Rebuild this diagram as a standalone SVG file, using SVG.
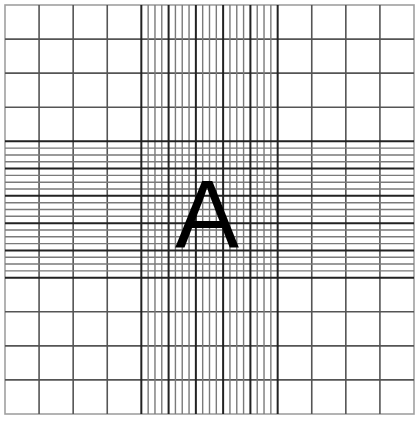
<svg xmlns="http://www.w3.org/2000/svg" width="415" height="421" viewBox="0 0 415 421">
<style>
.border{fill:none;stroke:#a0a0a0;stroke-width:1.6}
.coarse{fill:none;stroke:#555;stroke-width:1.6}
.fine{fill:none;stroke:#7a7a7a;stroke-width:1.4}
.bold{fill:none;stroke:#222;stroke-width:2}
.label{font-family:"Liberation Sans",Arial,sans-serif;font-size:96px;fill:#000}
</style>
<rect width="415" height="421" fill="#fff"/>
<g id="grid">
<rect class="border" x="5" y="5" width="409" height="409"/>
<path class="coarse" d="M39.08 5V414M73.17 5V414M107.25 5V414M311.75 5V414M345.83 5V414M379.92 5V414M5 39.08H414M5 73.17H414M5 107.25H414M5 311.75H414M5 345.83H414M5 379.92H414"/>
<path class="fine" d="M148.15 5V414M154.97 5V414M161.78 5V414M175.42 5V414M182.23 5V414M189.05 5V414M202.68 5V414M209.5 5V414M216.32 5V414M229.95 5V414M236.77 5V414M243.58 5V414M257.22 5V414M264.03 5V414M270.85 5V414M5 148.15H414M5 154.97H414M5 161.78H414M5 175.42H414M5 182.23H414M5 189.05H414M5 202.68H414M5 209.5H414M5 216.32H414M5 229.95H414M5 236.77H414M5 243.58H414M5 257.22H414M5 264.03H414M5 270.85H414"/>
<path class="bold" d="M141.33 5V414M168.6 5V414M195.87 5V414M223.13 5V414M250.4 5V414M277.67 5V414M5 141.33H414M5 168.6H414M5 195.87H414M5 223.13H414M5 250.4H414M5 277.67H414"/>
</g>
<g id="label-A">
<text class="label" x="207" y="247" text-anchor="middle">A</text>
</g>
</svg>
